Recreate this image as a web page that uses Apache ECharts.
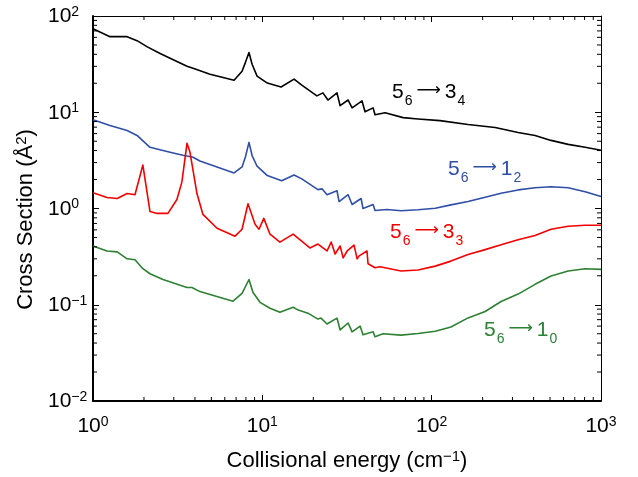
<!DOCTYPE html>
<html>
<head>
<meta charset="utf-8">
<script src="https://cdn.jsdelivr.net/npm/echarts@6/dist/echarts.min.js"></script>
<style>
html,body{margin:0;padding:0;background:#fff;}
#chart{width:638px;height:477px;}
</style>
</head>
<body>
<div id="chart"></div>
<script>
// ---- data ----
var energyBlack = [1, 1.26, 1.59, 1.82, 2.08, 2.49, 3.59, 3.9, 4.91, 6.81, 7.59, 7.95, 8.34, 8.7, 9.31, 10.7, 12.9, 15.4, 17.1, 21.0, 22.8, 24.4, 27.6, 28.8, 32.1, 33.9, 38.8, 40.4, 45.1, 46.3, 53.1, 67.8, 83.1, 112, 164, 237, 324, 408, 507, 640, 806, 1000];
var sigmaBlack  = [73.6, 61, 61, 55.4, 48.1, 40.8, 30.0, 28.6, 24.8, 21.5, 26.7, 33.0, 41.8, 31.5, 23.7, 20.1, 18.3, 22.1, 19.1, 14.8, 15.9, 13.4, 15.9, 11.7, 13.4, 11.1, 13.1, 10.1, 11.1, 9.43, 9.88, 8.79, 8.5, 8.18, 7.45, 6.93, 6.16, 5.74, 5.10, 4.64, 4.32, 4.03];

var energyBlue = [1, 1.26, 1.59, 1.82, 2.17, 2.85, 3.40, 3.9, 4.28, 6.81, 7.59, 7.95, 8.34, 8.7, 9.31, 10.7, 13.0, 15.4, 17.1, 21.3, 22.5, 24.1, 27.6, 28.4, 32.1, 33.9, 38.3, 39.3, 45.1, 46.3, 54.5, 65.9, 83.1, 105, 130, 164, 207, 257, 324, 408, 507, 640, 806, 1000];
var sigmaBlue  = [8.38, 7.27, 6.46, 5.74, 4.32, 3.84, 3.58, 3.41, 3.11, 2.34, 2.7, 3.45, 4.86, 3.55, 2.75, 2.2, 1.94, 2.23, 2.03, 1.57, 1.60, 1.39, 1.53, 1.18, 1.39, 1.10, 1.27, 1.0, 1.10, 0.954, 0.977, 0.947, 0.970, 1.007, 1.09, 1.18, 1.31, 1.44, 1.56, 1.64, 1.68, 1.64, 1.49, 1.33];

var energyRed = [1, 1.21, 1.39, 1.59, 1.77, 1.97, 2.17, 2.39, 2.77, 3.13, 3.35, 3.59, 3.74, 4.11, 4.46, 5.40, 6.90, 7.59, 8.23, 9.06, 9.56, 10.2, 11.1, 12.7, 15.2, 19.1, 21.3, 24.1, 25.5, 26.9, 28.8, 30.0, 31.7, 34.8, 36.3, 37.3, 41.5, 42.1, 46.3, 49.6, 65.9, 83.1, 105, 130, 164, 207, 257, 324, 408, 507, 640, 806, 1000];
var sigmaRed  = [1.46, 1.30, 1.27, 1.43, 1.39, 2.83, 0.931, 0.889, 0.889, 1.24, 1.89, 4.75, 3.84, 1.43, 0.868, 0.623, 0.516, 0.609, 1.12, 0.685, 0.609, 0.789, 0.541, 0.448, 0.541, 0.389, 0.427, 0.362, 0.448, 0.337, 0.408, 0.307, 0.362, 0.417, 0.300, 0.322, 0.362, 0.267, 0.242, 0.248, 0.224, 0.230, 0.252, 0.284, 0.332, 0.374, 0.421, 0.473, 0.525, 0.609, 0.654, 0.669, 0.669];

var energyGreen = [1, 1.21, 1.39, 1.59, 1.77, 1.97, 2.17, 2.59, 3.59, 3.84, 4.28, 6.71, 7.59, 8.34, 8.81, 9.69, 11.1, 12.7, 15.2, 16.3, 18.6, 21.3, 22.2, 24.1, 27.6, 28.8, 32.1, 33.9, 37.8, 39.3, 45.1, 46.3, 51.6, 65.9, 83.1, 105, 130, 164, 207, 257, 324, 408, 507, 640, 806, 1000];
var sigmaGreen  = [0.408, 0.362, 0.354, 0.300, 0.293, 0.237, 0.210, 0.183, 0.151, 0.151, 0.137, 0.109, 0.131, 0.183, 0.134, 0.106, 0.092, 0.0838, 0.0942, 0.0880, 0.0818, 0.0710, 0.0727, 0.0631, 0.0727, 0.0547, 0.0646, 0.0523, 0.0600, 0.0487, 0.0523, 0.0465, 0.0500, 0.0483, 0.0502, 0.0531, 0.0588, 0.073, 0.085, 0.108, 0.129, 0.163, 0.199, 0.224, 0.237, 0.233];

var xDecades = [1, 10, 100];
var yDecades = [0.01, 0.1, 1, 10];
var minorMultipliers = [2, 3, 4, 5, 6, 7, 8, 9];
var xMin = 1, xMax = 1000, yMin = 0.01, yMax = 100;

// ---- build ----
var FONT = '"Liberation Sans", Arial, Helvetica, sans-serif';
function zip(xs, ys) { return xs.map(function (x, i) { return [x, ys[i]]; }); }
var xMinor = [], yMinor = [];
xDecades.forEach(function (d) { minorMultipliers.forEach(function (m) { xMinor.push(d * m); }); });
yDecades.forEach(function (d) { minorMultipliers.forEach(function (m) { yMinor.push(d * m); }); });

function expLabel(v) {
  var e = Math.round(Math.log10(v));
  var s = e < 0 ? '\u2212' + (-e) : '' + e;
  return '{b|10}{p|' + s + '}';
}
var tickRich = {
  b: { fontSize: 21, fontFamily: FONT, color: '#000', lineHeight: 22, verticalAlign: 'bottom' },
  p: { fontSize: 14, fontFamily: FONT, color: '#000', lineHeight: 14, verticalAlign: 'top' }
};
var titleRich = {
  b: { fontSize: 22, fontFamily: FONT, color: '#000', lineHeight: 23, verticalAlign: 'bottom' },
  p: { fontSize: 15, fontFamily: FONT, color: '#000', lineHeight: 15, verticalAlign: 'top' }
};

function lineSeries(xs, ys, color) {
  return {
    type: 'line', xAxisIndex: 0, yAxisIndex: 0, data: zip(xs, ys),
    showSymbol: false, symbol: 'none', smooth: false, silent: true,
    lineStyle: { color: color, width: 1.6, join: 'round' }, z: 3
  };
}

var chart = echarts.init(document.getElementById('chart'), null, { renderer: 'canvas' });

function axisCommon(extra) {
  var base = {
    type: 'log', logBase: 10,
    splitLine: { show: false },
    axisTick: { show: true, inside: true, length: 6, lineStyle: { color: '#000', width: 1 } },
    minorTick: { show: false },
    axisLine: { show: true, onZero: false, lineStyle: { color: '#000', width: 1 } }
  };
  for (var k in extra) base[k] = extra[k];
  return base;
}

var option = {
  animation: false,
  backgroundColor: '#fff',
  grid: { left: 93, right: 37, top: 16, bottom: 71, containLabel: false },
  xAxis: [
    axisCommon({
      position: 'bottom', min: xMin, max: xMax,
      axisLine: { show: true, onZero: false, lineStyle: { color: '#000', width: 2 } },
      axisLabel: { margin: 14, formatter: expLabel, rich: tickRich },
      name: '{b|Collisional energy (cm}{p|\u22121}{b|)}',
      nameLocation: 'middle', nameGap: 48,
      nameTextStyle: { rich: titleRich }
    }),
    axisCommon({
      position: 'top', min: xMin, max: xMax,
      axisLabel: { show: false }
    })
  ],
  yAxis: [
    axisCommon({
      position: 'left', min: yMin, max: yMax,
      axisLine: { show: true, onZero: false, lineStyle: { color: '#000', width: 2 } },
      axisLabel: { margin: 45, align: 'left', formatter: expLabel, rich: tickRich },
      name: '{b|Cross Section (\u00C5}{p|2}{b|)}',
      nameLocation: 'middle', nameGap: 52, nameRotate: 90,
      nameTextStyle: { rich: titleRich, padding: [0, 22, 0, 0] }
    }),
    axisCommon({
      position: 'right', min: yMin, max: yMax,
      axisLabel: { show: false }
    })
  ],
  series: [
    lineSeries(energyBlack, sigmaBlack, '#000000'),
    lineSeries(energyBlue, sigmaBlue, '#2f4fa6'),
    lineSeries(energyRed, sigmaRed, '#f20000'),
    lineSeries(energyGreen, sigmaGreen, '#2e8033'),
    {
      type: 'custom', xAxisIndex: 0, yAxisIndex: 0, silent: true, clip: false, z: 5,
      data: xMinor.map(function (v) { return [v, yMin]; }),
      renderItem: function (params, api) {
        var v = api.value(0);
        var pb = api.coord([v, yMin]);
        var pt = api.coord([v, yMax]);
        var st = { stroke: '#000', lineWidth: 1 };
        return { type: 'group', children: [
          { type: 'line', shape: { x1: pb[0], y1: pb[1], x2: pb[0], y2: pb[1] - 4 }, style: st },
          { type: 'line', shape: { x1: pt[0], y1: pt[1], x2: pt[0], y2: pt[1] + 4 }, style: st }
        ]};
      }
    },
    {
      type: 'custom', xAxisIndex: 0, yAxisIndex: 0, silent: true, clip: false, z: 5,
      data: yMinor.map(function (v) { return [xMin, v]; }),
      renderItem: function (params, api) {
        var v = api.value(1);
        var pl = api.coord([xMin, v]);
        var pr = api.coord([xMax, v]);
        var st = { stroke: '#000', lineWidth: 1 };
        return { type: 'group', children: [
          { type: 'line', shape: { x1: pl[0], y1: pl[1], x2: pl[0] + 4, y2: pl[1] }, style: st },
          { type: 'line', shape: { x1: pr[0], y1: pr[1], x2: pr[0] - 4, y2: pr[1] }, style: st }
        ]};
      }
    }
  ],
  graphic: []
};

function trLabel(a, b, c, color, x, y) {
  return {
    type: 'text', left: x, top: y, silent: true, z: 10,
    style: {
      text: '{m|' + a + '}{s|' + b + '}{a|\u27F6}{m|' + c[0] + '}{s|' + c[1] + '}',
      fill: color,
      rich: {
        m: { fontSize: 21, fontFamily: FONT, fill: color, lineHeight: 21, verticalAlign: 'top' },
        s: { fontSize: 14, fontFamily: FONT, fill: color, lineHeight: 14, verticalAlign: 'top', padding: [12, 4, 0, 1] },
        a: { fontSize: 17, fontFamily: '"DejaVu Sans", sans-serif', fill: color, lineHeight: 21, verticalAlign: 'top', padding: [0, 4, 0, 0] }
      }
    }
  };
}
option.graphic = [
  trLabel('5', '6', '34', '#000000', 392, 82),
  trLabel('5', '6', '12', '#2f4fa6', 448, 159),
  trLabel('5', '6', '33', '#f20000', 390, 222),
  trLabel('5', '6', '10', '#2e8033', 484, 320)
];

chart.setOption(option);
</script>
</body>
</html>
